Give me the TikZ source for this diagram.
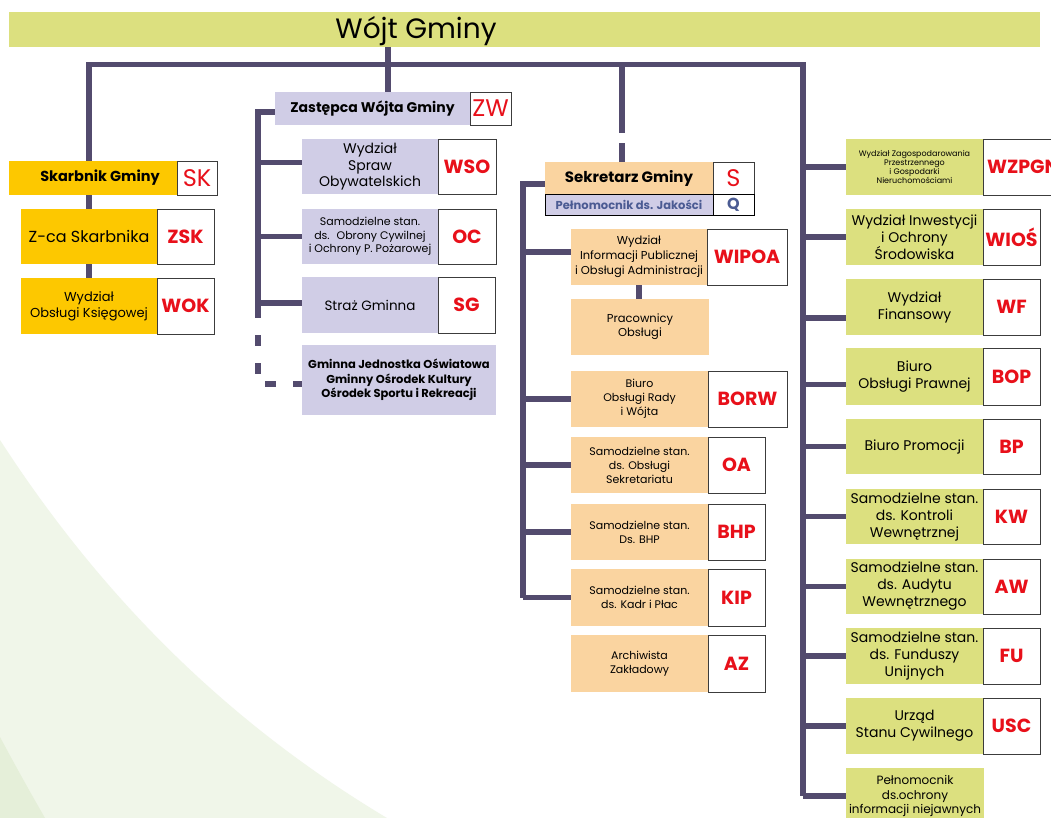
\documentclass[tikz,border=0pt]{standalone}
\usepackage{fontspec}
\setmainfont{Poppins}
\usetikzlibrary{calc}
\definecolor{bargreen}{HTML}{DCE07F}
\definecolor{yel}{HTML}{FDC800}
\definecolor{lav}{HTML}{D0CDE6}
\definecolor{peach}{HTML}{FAD4A0}
\definecolor{linec}{HTML}{534B6E}
\definecolor{codered}{HTML}{E8101A}
\definecolor{jblue}{HTML}{4B5B93}
\definecolor{bgA}{HTML}{F0F6E9}
\definecolor{bgB}{HTML}{E5EFD9}
\definecolor{codeb}{HTML}{3C3C3C}
\newcommand\fs[2]{\fontsize{#1}{#2}\selectfont}
\pgfdeclarelayer{bglayer}
\pgfdeclarelayer{linelayer}
\pgfsetlayers{bglayer,linelayer,main}
\tikzset{
 wh/.style 2 args={minimum width=#1pt, minimum height=#2pt},
 ubox/.style={anchor=north west, inner sep=0pt, outer sep=0pt, align=center, text=black},
 codebox/.style={ubox, fill=white, draw=codeb, line width=0.9pt, text=codered, font=\bfseries\fs{19}{22}},
 bigcode/.style={codebox, font=\fs{24}{27}},
 conn/.style={draw=linec, line width=5.5pt, line join=miter},
 dconn/.style={conn, dash pattern=on 11pt off 17pt},
 txs/.style={font=\fs{11}{14}},
 txm/.style={font=\fs{13}{16}},
 txl/.style={font=\fs{14}{17}},
}
\begin{document}
\begin{tikzpicture}[x=1pt,y=-1pt]
\useasboundingbox (0,0) rectangle (1051,818);
\clip (0,0) rectangle (1051,818);
\begin{pgfonlayer}{bglayer}
\fill[white] (0,0) rectangle (1051,818);
\fill[bgA] (0,440) .. controls (110,610) and (240,730) .. (387,818) -- (0,818) -- cycle;
\fill[bgB] (0,737) .. controls (15,765) and (30,792) .. (45,818) -- (0,818) -- cycle;
\end{pgfonlayer}

% top
\node[ubox, wh={1031}{35}, fill=bargreen] (wojt) at (9,12) {};
\node[anchor=base, inner sep=0pt, font=\fs{28}{32}] (wojtt) at (416,39) {Wójt Gminy};

% Skarbnik
\node[ubox, wh={168}{34}, fill=yel, font=\bfseries\fs{14.5}{17}] (sk) at (9,161) {\hspace*{14pt}Skarbnik Gminy};
\node[bigcode, wh={40}{34}] (skc) at (177,161) {SK};
\node[ubox, wh={136}{55}, fill=yel, font=\fs{16}{19}] (zsk) at (21,209) {Z-ca Skarbnika};
\node[codebox, wh={57}{55}] (zskc) at (157,209) {ZSK};
\node[ubox, wh={136}{56}, fill=yel, txm] (wok) at (21,278) {Wydział\\Obsługi Księgowej};
\node[codebox, wh={57}{56}] (wokc) at (157,278) {WOK};

% Zastepca
\node[ubox, wh={195}{33}, fill=lav, font=\bfseries\fs{14}{17}] (zw) at (275,92) {Zastępca Wójta Gminy};
\node[bigcode, wh={41}{33}] (zwc) at (470,92) {ZW};
\node[ubox, wh={136}{55}, fill=lav, font=\fs{14}{16.5}] (wso) at (302,139) {Wydział\\Spraw\\Obywatelskich};
\node[codebox, wh={58}{55}] (wsoc) at (438,139) {WSO};
\node[ubox, wh={136}{55}, fill=lav, font=\fs{11}{13.5}] (oc) at (302,209) {Samodzielne stan.\\ds.~ Obrony Cywilnej\\i Ochrony P. Pożarowej};
\node[codebox, wh={58}{55}] (occ) at (438,209) {OC};
\node[ubox, wh={136}{56}, fill=lav, font=\fs{13.5}{16}] (sg) at (302,277) {Straż Gminna};
\node[codebox, wh={57}{56}] (sgc) at (438,277) {SG};
\node[ubox, wh={194}{70}, fill=lav, font=\bfseries\fs{11.5}{14.5}] (gjo) at (302,345) {Gminna Jednostka Oświatowa\\Gminny Ośrodek Kultury\\Ośrodek Sportu i Rekreacji};

% Sekretarz
\node[ubox, wh={168}{32}, fill=peach, font=\bfseries\fs{15}{18}] (sekr) at (545,162) {Sekretarz Gminy};
\node[bigcode, wh={41}{32}] (sekrc) at (713,162) {S};
\node[ubox, wh={168}{21}, fill=lav, draw=black, line width=0.9pt, text=jblue, font=\bfseries\fs{11.5}{14}] (jak) at (545,194) {Pełnomocnik ds. Jakości};
\node[codebox, wh={41}{21}, draw=black, text=jblue, font=\bfseries\fs{16}{18}] (jakc) at (713,194) {Q};
\node[ubox, wh={136}{56}, fill=peach, font=\fs{11.5}{15}] (wipoa) at (571,229) {Wydział\\Informacji Publicznej\\i Obsługi Administracji};
\node[codebox, wh={80}{56}] (wipoac) at (707,229) {WIPOA};
\node[ubox, wh={138}{56}, fill=peach, font=\fs{11.5}{14}] (prac) at (571,299) {Pracownicy\\Obsługi};
\node[ubox, wh={137}{56}, fill=peach, txs] (borw) at (571,371) {Biuro\\Obsługi Rady\\i Wójta};
\node[codebox, wh={79}{56}] (borwc) at (708,371) {BORW};
\node[ubox, wh={137}{56}, fill=peach, txs] (oa) at (571,437) {Samodzielne stan.\\ds. Obsługi\\Sekretariatu};
\node[codebox, wh={57}{56}] (oac) at (708,437) {OA};
\node[ubox, wh={137}{56}, fill=peach, txs] (bhp) at (571,504) {Samodzielne stan.\\Ds. BHP};
\node[codebox, wh={57}{56}] (bhpc) at (708,504) {BHP};
\node[ubox, wh={137}{57}, fill=peach, txs] (kip) at (571,569) {Samodzielne stan.\\ds. Kadr i Płac};
\node[codebox, wh={57}{57}] (kipc) at (708,569) {KIP};
\node[ubox, wh={137}{57}, fill=peach, txs] (az) at (571,635) {Archiwista\\Zakładowy};
\node[codebox, wh={57}{57}] (azc) at (708,635) {AZ};

% right column
\node[ubox, wh={137}{56}, fill=bargreen, font=\fs{8}{9}] (wzp) at (846,139) {Wydział Zagospodarowania\\Przestrzennego\\i Gospodarki\\Nieruchomościami};
\node[codebox, wh={80}{56}] (wzpc) at (983,139) {WZPGN};
\node[ubox, wh={137}{56}, fill=bargreen, txl] (wios) at (846,209) {Wydział Inwestycji\\i Ochrony\\Środowiska};
\node[codebox, wh={57}{56}] (wiosc) at (983,209) {WIOŚ};
\node[ubox, wh={137}{56}, fill=bargreen, txl] (wf) at (846,279) {Wydział\\Finansowy};
\node[codebox, wh={57}{56}] (wfc) at (983,279) {WF};
\node[ubox, wh={137}{57}, fill=bargreen, txl] (bop) at (846,348) {Biuro\\Obsługi Prawnej};
\node[codebox, wh={57}{57}] (bopc) at (983,348) {BOP};
\node[ubox, wh={137}{55}, fill=bargreen, txl] (bp) at (846,419) {Biuro Promocji};
\node[codebox, wh={57}{55}] (bpc) at (983,419) {BP};
\node[ubox, wh={137}{55}, fill=bargreen, txl] (kw) at (846,489) {Samodzielne stan.\\ds. Kontroli\\Wewnętrznej};
\node[codebox, wh={57}{55}] (kwc) at (983,489) {KW};
\node[ubox, wh={137}{55}, fill=bargreen, txl] (aw) at (846,559) {Samodzielne stan.\\ds. Audytu\\Wewnętrznego};
\node[codebox, wh={57}{55}] (awc) at (983,559) {AW};
\node[ubox, wh={137}{56}, fill=bargreen, txl] (fu) at (846,628) {Samodzielne stan.\\ds. Funduszy\\Unijnych};
\node[codebox, wh={57}{56}] (fuc) at (983,628) {FU};
\node[ubox, wh={137}{56}, fill=bargreen, txl] (usc) at (846,698) {Urząd\\Stanu Cywilnego};
\node[codebox, wh={57}{56}] (uscc) at (983,698) {USC};
\node[ubox, wh={138}{56}, fill=bargreen, font=\fs{12}{14.5}] (pel) at (846,768) {Pełnomocnik\\ds.ochrony\\informacji niejawnych};

% connectors
\begin{pgfonlayer}{linelayer}
\coordinate (tl) at (89,64.5);
\coordinate (tr) at (803,64.5);
\coordinate (j) at (388,64.5);
\coordinate (js) at (622,64.5);
\coordinate (zl) at (258,0);
\coordinate (sl) at (523,0);
\draw[conn] (tl |- sk.north) -- (tl) -- (tr) -- (tr |- pel.west);
\draw[conn] (wojt.south -| j) -- (j |- zw.north);
\draw[conn] (js) -- (js |- sekr.north);
\fill[white] (618,133) rectangle (626,143);
\draw[conn] (tl |- sk.south) -- (tl |- zsk.north);
\draw[conn] (tl |- zsk.south) -- (tl |- wok.north);
% zastepca
\draw[conn] ($(zw.west)+(0,3.5)$) -| ($(zl |- sg.west)+(0,2)$);
\draw[conn] ($(zl |- wso.west)+(0,-4)$) -- ($(wso.west)+(0,-4)$);
\draw[conn] (zl |- oc.west) -- (oc.west);
\draw[conn] ($(zl |- sg.west)+(0,-2)$) -- ($(sg.west)+(0,-2)$);
\draw[dconn] ($(zl |- sg.west)+(0,2)$) -- ($(zl |- gjo.west)+(0,4)$) -- ($(gjo.west)+(0,4)$);
% sekretarz
\draw[conn] ($(sekr.west)+(0,6)$) -| (sl |- kip.west);
\draw[conn] ($(sl |- wipoa.west)+(0,-5)$) -- ($(wipoa.west)+(0,-5)$);
\draw[conn] (sl |- borw.west) -- (borw.west);
\draw[conn] (sl |- oa.west) -- (oa.west);
\draw[conn] (sl |- bhp.west) -- (bhp.west);
\draw[conn] (sl |- kip.west) -- (kip.west);
\draw[conn] (wipoa.south) -- (wipoa.south |- prac.north);
% right
\draw[conn] (tr |- wzp.west) -- (wzp.west);
\draw[conn] (tr |- wios.west) -- (wios.west);
\draw[conn] ($(tr |- wf.west)+(0,11)$) -- ($(wf.west)+(0,11)$);
\draw[conn] ($(tr |- bop.west)+(0,8)$) -- ($(bop.west)+(0,8)$);
\draw[conn] (tr |- bp.west) -- (bp.west);
\draw[conn] (tr |- kw.west) -- (kw.west);
\draw[conn] (tr |- aw.west) -- (aw.west);
\draw[conn] (tr |- fu.west) -- (fu.west);
\draw[conn] (tr |- usc.west) -- (usc.west);
\draw[conn] (tr |- pel.west) -- (pel.west);
\end{pgfonlayer}
\end{tikzpicture}
\end{document}
